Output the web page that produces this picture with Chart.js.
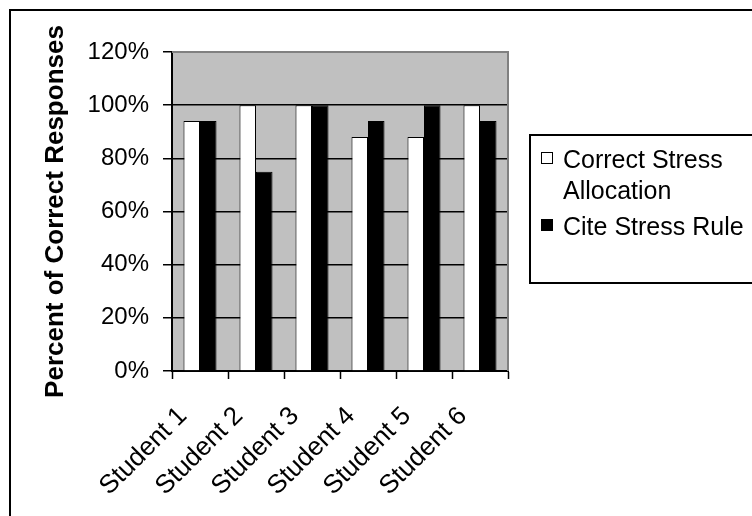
<!DOCTYPE html>
<html>
<head>
<meta charset="utf-8">
<script src="https://cdn.jsdelivr.net/npm/chart.js@4"></script>
<style>
  body { margin: 0; background: #fff; }
  canvas { display: block; }
</style>
</head>
<body>
<canvas id="stressChart" width="752" height="516"></canvas>
<script>
// data
const students = ["Student 1", "Student 2", "Student 3", "Student 4", "Student 5", "Student 6"];
const correctStress = [94, 100, 100, 88, 88, 100];
const citeRule = [94, 75, 100, 94, 100, 94];
const seriesNames = ["Correct Stress Allocation", "Cite Stress Rule"];
const legendLines = [["Correct Stress", "Allocation"], ["Cite Stress Rule"]];
const yTicks = [0, 20, 40, 60, 80, 100, 120];

const FONT = "'Liberation Sans', Arial, sans-serif";
Chart.defaults.font.family = FONT;
Chart.defaults.color = "#000";

// gray plot area, outer frame and the boxed legend
const excelLook = {
    id: "excelLook",
    beforeDraw(chart) {
        const ctx = chart.ctx;
        const a = chart.chartArea;
        ctx.save();
        ctx.fillStyle = "#fff";
        ctx.fillRect(0, 0, chart.width, chart.height);
        ctx.fillStyle = "#c0c0c0";
        ctx.fillRect(a.left, a.top, a.right - a.left, a.bottom - a.top);
        ctx.restore();
    },
    afterDraw(chart) {
        const ctx = chart.ctx;
        const a = chart.chartArea;
        ctx.save();
        // top / right plot border
        ctx.strokeStyle = "#808080";
        ctx.lineWidth = 2;
        ctx.beginPath();
        ctx.moveTo(a.left, a.top);
        ctx.lineTo(a.right, a.top);
        ctx.lineTo(a.right, a.bottom);
        ctx.stroke();

        // outer frame
        ctx.strokeStyle = "#000";
        ctx.lineWidth = 2;
        ctx.strokeRect(10, 10, 800, 600);

        // legend box
        ctx.fillStyle = "#fff";
        ctx.fillRect(530, 135, 240, 148);
        ctx.strokeRect(530, 135, 240, 148);

        ctx.font = "25px " + FONT;
        ctx.textBaseline = "alphabetic";
        const baselines = [168, 235];
        chart.data.datasets.forEach((ds, i) => {
            const y0 = baselines[i];
            ctx.fillStyle = ds.backgroundColor;
            ctx.fillRect(541, y0 - 16, 12, 12);
            ctx.lineWidth = 1;
            ctx.strokeStyle = "#000";
            ctx.strokeRect(541.5, y0 - 15.5, 11, 11);
            ctx.fillStyle = "#000";
            legendLines[i].forEach((line, j) => {
                ctx.fillText(line, 563, y0 + j * 31);
            });
        });
        ctx.restore();
    }
};

const ctx = document.getElementById("stressChart").getContext("2d");
new Chart(ctx, {
    type: "bar",
    data: {
        labels: students,
        datasets: [
            {
                label: seriesNames[0],
                data: correctStress,
                backgroundColor: "#ffffff",
                borderColor: "#000",
                borderWidth: 1
            },
            {
                label: seriesNames[1],
                data: citeRule,
                backgroundColor: "#000000",
                borderColor: "#000",
                borderWidth: 1
            }
        ]
    },
    options: {
        responsive: false,
        animation: false,
        devicePixelRatio: 1,
        layout: { padding: { top: 52, right: 244, left: 0, bottom: 0 } },
        datasets: { bar: { categoryPercentage: 0.59, barPercentage: 1.0 } },
        plugins: {
            legend: { display: false },
            tooltip: { enabled: false }
        },
        scales: {
            x: {
                afterFit: scale => { scale.height = 145; },
                grid: {
                    offset: true,
                    drawOnChartArea: false,
                    drawTicks: true,
                    tickLength: 8,
                    tickColor: "#000",
                    tickWidth: 1.5
                },
                border: { color: "#000", width: 2 },
                ticks: {
                    minRotation: 45,
                    maxRotation: 45,
                    autoSkip: false,
                    padding: 22,
                    labelOffset: -17,
                    font: { size: 26 },
                    color: "#000"
                }
            },
            y: {
                min: 0,
                max: 120,
                afterFit: scale => { scale.width = 172; },
                afterBuildTicks: scale => {
                    scale.ticks = yTicks.map(v => ({ value: v }));
                },
                grid: {
                    color: c => (c.tick && c.tick.value === 120 ? "rgba(0,0,0,0)" : "#000"),
                    lineWidth: 1.5,
                    tickLength: 9,
                    tickColor: "#000",
                    tickWidth: 1.5
                },
                border: { color: "#000", width: 2 },
                ticks: {
                    padding: 14,
                    font: { size: 24 },
                    color: "#000",
                    callback: v => v + "%"
                },
                title: {
                    display: true,
                    text: "Percent of Correct Responses",
                    font: { size: 26, weight: "bold" },
                    color: "#000",
                    padding: { top: 40, bottom: 0 }
                }
            }
        }
    },
    plugins: [excelLook]
});
</script>
</body>
</html>
